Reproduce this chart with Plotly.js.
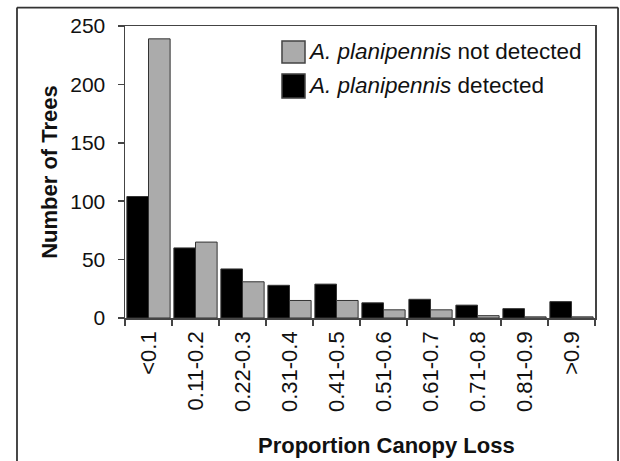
<!DOCTYPE html>
<html>
<head>
<meta charset="utf-8">
<script src="https://cdn.plot.ly/plotly-3.0.1.min.js"></script>
<style>
  html, body { margin: 0; padding: 0; background: #fff; }
  #chart { width: 620px; height: 461px; }
</style>
</head>
<body>
<div id="chart"></div>
<script>
// ---- Data ----
const categories = ["<0.1", "0.11-0.2", "0.22-0.3", "0.31-0.4", "0.41-0.5",
                    "0.51-0.6", "0.61-0.7", "0.71-0.8", "0.81-0.9", ">0.9"];
const detected    = [104, 60, 42, 28, 29, 13, 16, 11, 8, 14];
const notDetected = [239, 65, 31, 15, 15, 7, 7, 2, 1, 1];
const seriesNames = ["<i>A. planipennis</i> detected", "<i>A. planipennis</i> not detected"];
const yTicks = [0, 50, 100, 150, 200, 250];
const xTitle = "Proportion Canopy Loss";
const yTitle = "Number of Trees";

const FONT = "Liberation Sans, Arial, Helvetica, sans-serif";
const BLACK = "#000000";
const GRAY = "#ababab";
const EDGE = "#333333";

const traces = [
  {
    type: "bar", name: seriesNames[0], x: categories, y: detected,
    marker: { color: BLACK, line: { color: EDGE, width: 1 } },
    showlegend: false, hoverinfo: "x+y"
  },
  {
    type: "bar", name: seriesNames[1], x: categories, y: notDetected,
    marker: { color: GRAY, line: { color: EDGE, width: 1 } },
    showlegend: false, hoverinfo: "x+y"
  }
];

// Manual legend (large square swatches like the reference)
const legendItems = [
  { label: seriesNames[1], color: GRAY, y0: 0.873, y1: 0.949, ty: 0.911 },
  { label: seriesNames[0], color: BLACK, y0: 0.753, y1: 0.836, ty: 0.795 }
];
const shapes = [];
const annotations = [];
legendItems.forEach(it => {
  shapes.push({
    type: "rect", xref: "paper", yref: "paper",
    x0: 0.334, x1: 0.383, y0: it.y0, y1: it.y1,
    fillcolor: it.color, line: { color: "#444", width: 1.5 }
  });
  annotations.push({
    xref: "paper", yref: "paper", x: 0.386, y: it.ty,
    xanchor: "left", yanchor: "middle", showarrow: false,
    text: it.label, font: { family: FONT, size: 22.5, color: "#111" }
  });
});

// x-axis title (offset to the right as in the reference)
annotations.push({
  xref: "paper", yref: "paper", x: 0.557, y: -0.435,
  xanchor: "center", yanchor: "middle", showarrow: false,
  text: "<b>" + xTitle + "</b>", font: { family: FONT, size: 22, color: "#111" }
});

// Outer figure frame (open at the bottom)
const frameStyle = { color: "#333", width: 1.8 };
shapes.push({ type: "line", xref: "paper", yref: "paper", x0: -0.2298, x1: -0.2298, y0: -0.7, y1: 1.063, line: frameStyle });
shapes.push({ type: "line", xref: "paper", yref: "paper", x0: -0.2298, x1: 1.049, y0: 1.063, y1: 1.063, line: frameStyle });
shapes.push({ type: "line", xref: "paper", yref: "paper", x0: 1.049, x1: 1.049, y0: 1.063, y1: -0.7, line: frameStyle });

const layout = {
  width: 620, height: 461,
  margin: { l: 125, r: 25, t: 26, b: 143 },
  paper_bgcolor: "#ffffff", plot_bgcolor: "#ffffff",
  barmode: "group", bargap: 0.08, bargroupgap: 0.0,
  showlegend: false,
  font: { family: FONT, color: "#111" },
  xaxis: {
    type: "category",
    categoryorder: "array", categoryarray: categories,
    tickangle: -90,
    ticks: "outside", ticklen: 6, tickwidth: 1.5, tickcolor: "#444",
    tickson: "boundaries",
    ticklabelstandoff: 3,
    showline: true, linecolor: "#444", linewidth: 1.5, mirror: true,
    showgrid: false, zeroline: false,
    tickfont: { family: FONT, size: 22, color: "#111" }
  },
  yaxis: {
    range: [0, 250],
    tickvals: yTicks, ticktext: yTicks.map(String),
    ticks: "outside", ticklen: 6, tickwidth: 1.5, tickcolor: "#444",
    ticklabelstandoff: 8,
    showline: true, linecolor: "#444", linewidth: 1.5, mirror: true,
    showgrid: false, zeroline: false,
    tickfont: { family: FONT, size: 21, color: "#111" },
    title: { text: "<b>" + yTitle + "</b>", font: { family: FONT, size: 22, color: "#111" }, standoff: 6 }
  },
  shapes: shapes,
  annotations: annotations
};

Plotly.newPlot("chart", traces, layout, { displayModeBar: false, staticPlot: true });
</script>
</body>
</html>
